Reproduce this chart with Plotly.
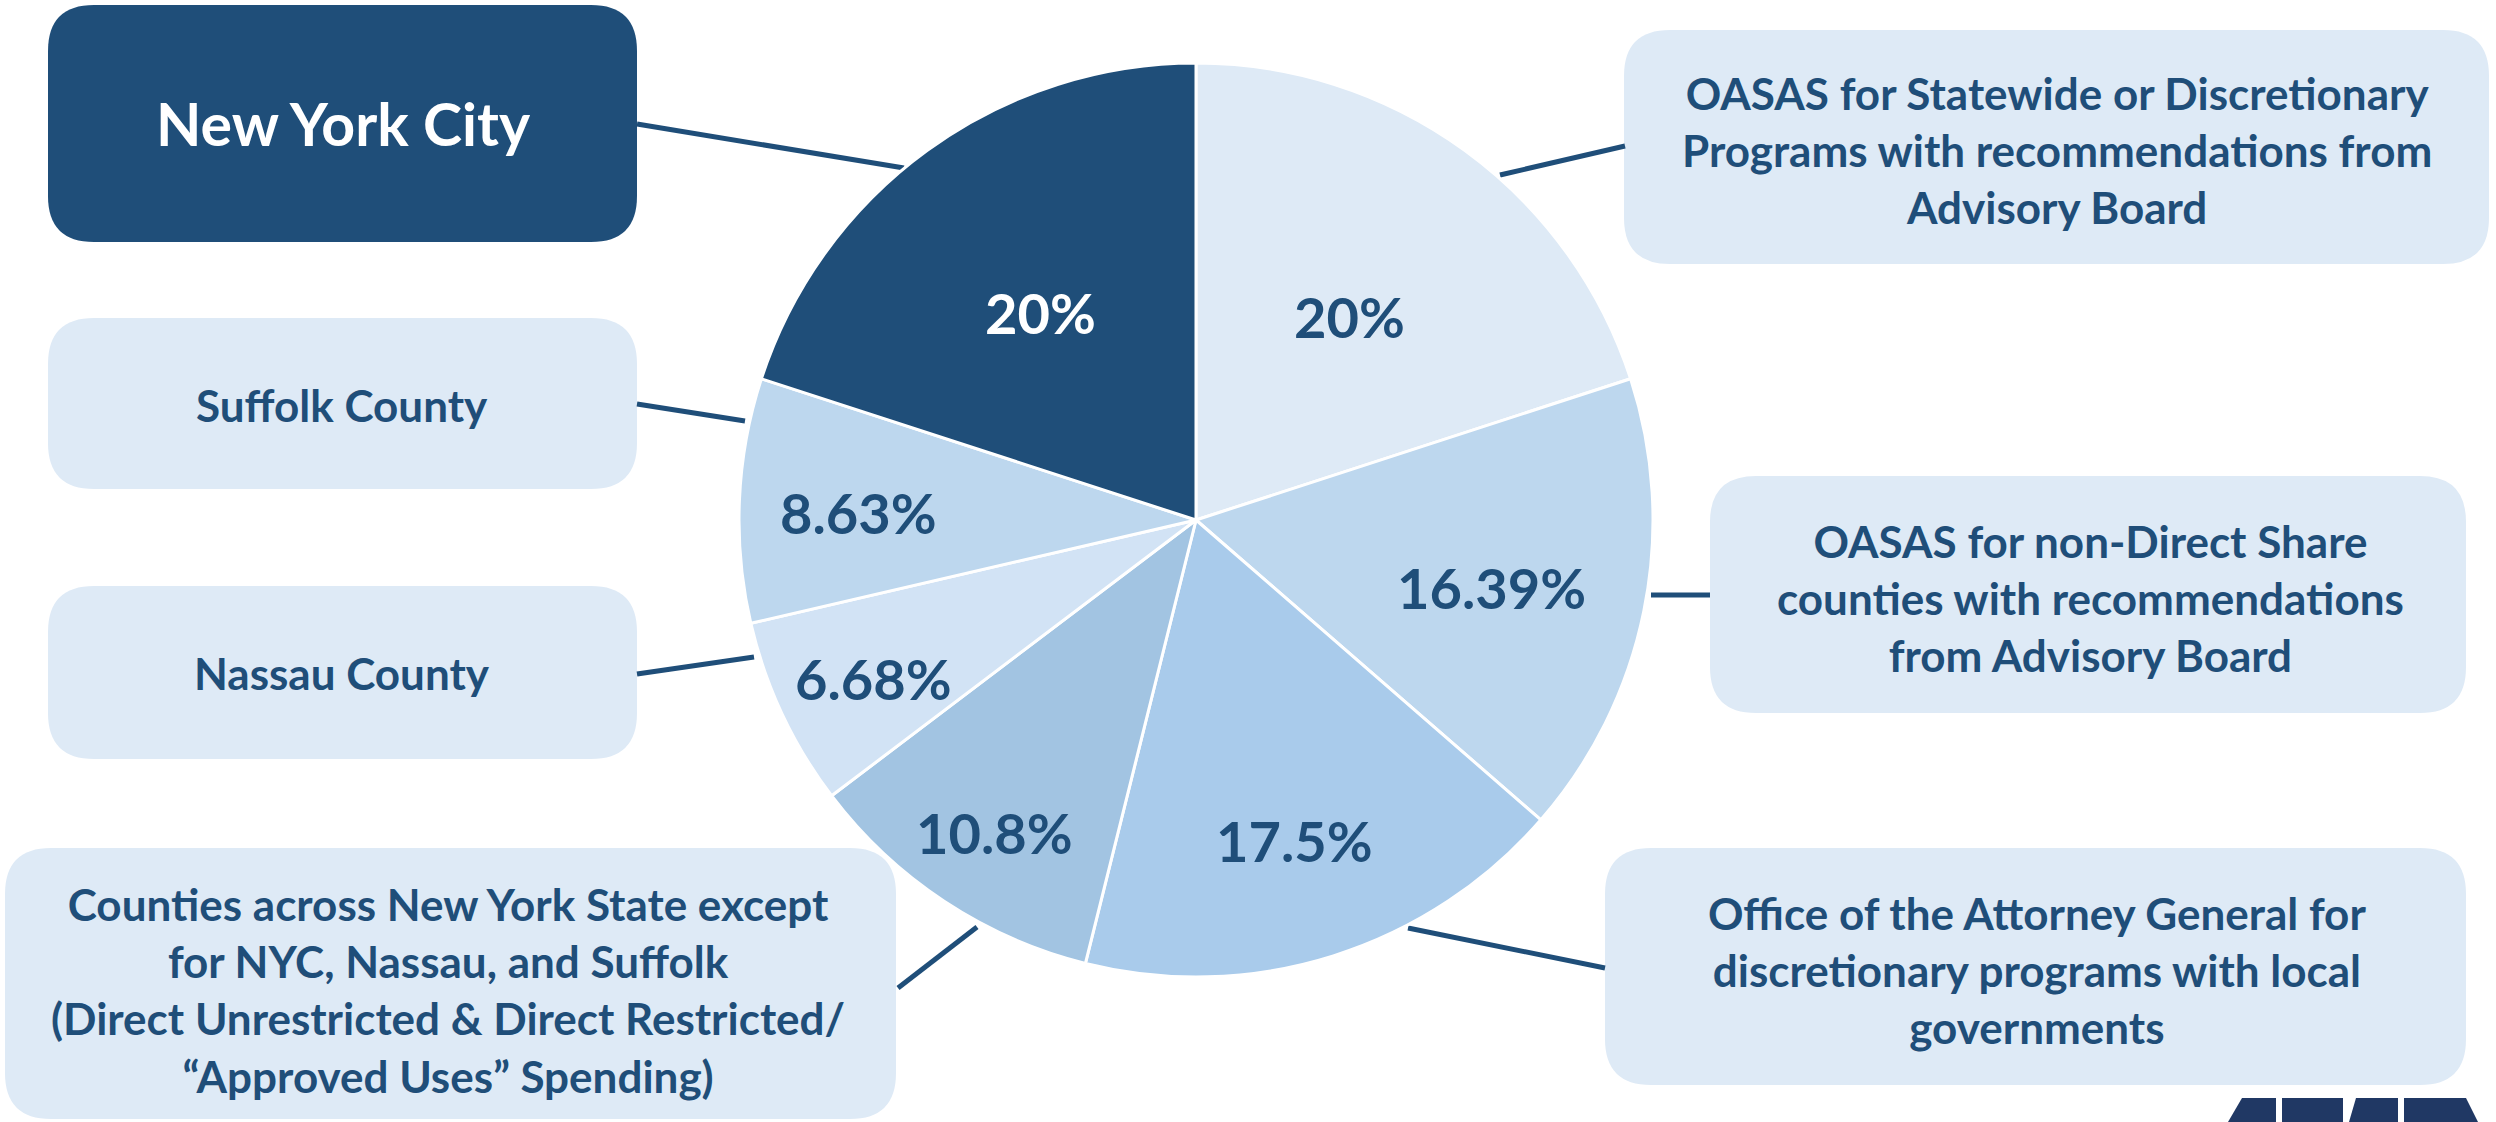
import math
import plotly.graph_objects as go

# ---------------- data ----------------
categories = [
    "OASAS for Statewide or Discretionary Programs with recommendations from Advisory Board",
    "OASAS for non-Direct Share counties with recommendations from Advisory Board",
    "Office of the Attorney General for discretionary programs with local governments",
    "Counties across New York State except for NYC, Nassau, and Suffolk",
    "Nassau County",
    "Suffolk County",
    "New York City",
]
values = [20, 16.39, 17.5, 10.8, 6.68, 8.63, 20]
pct_labels = ["20%", "16.39%", "17.5%", "10.8%", "6.68%", "8.63%", "20%"]

# ---------------- styles ----------------
W, H = 2496, 1122
NAVY = "#1F4E79"
BOX = "#DEEAF6"
slice_colors = ["#DEEAF6", "#BDD7EE", "#A9CBEB", "#A2C4E2", "#D2E3F5", "#BDD7EE", "#1F4E79"]
label_colors = [NAVY, NAVY, NAVY, NAVY, NAVY, NAVY, "white"]
label_rfrac = [0.57, 0.66, 0.72, 0.80, 0.78, 0.74, 0.58]
LABEL_DY = 7  # small downward nudge of the percentage labels (px)
FONT = "Lato, 'Open Sans', sans-serif"

# pie geometry in pixels
CX, CY, R = 1196, 520, 457


def X(p):
    return p / W


def Y(p):
    return 1 - p / H


fig = go.Figure()
fig.add_trace(go.Pie(
    labels=categories,
    values=values,
    sort=False,
    direction="clockwise",
    rotation=0,
    marker=dict(colors=slice_colors, line=dict(color="white", width=3)),
    textinfo="none",
    hoverinfo="skip",
    showlegend=False,
    domain=dict(x=[X(CX - R), X(CX + R)], y=[Y(CY + R), Y(CY - R)]),
))

shapes = []
annotations = []


def rrect(x0, y0, x1, y1, fill, r=46):
    p = (f"M {X(x0 + r)},{Y(y0)} L {X(x1 - r)},{Y(y0)} Q {X(x1)},{Y(y0)} {X(x1)},{Y(y0 + r)} "
         f"L {X(x1)},{Y(y1 - r)} Q {X(x1)},{Y(y1)} {X(x1 - r)},{Y(y1)} "
         f"L {X(x0 + r)},{Y(y1)} Q {X(x0)},{Y(y1)} {X(x0)},{Y(y1 - r)} "
         f"L {X(x0)},{Y(y0 + r)} Q {X(x0)},{Y(y0)} {X(x0 + r)},{Y(y0)} Z")
    shapes.append(dict(type="path", path=p, xref="paper", yref="paper",
                       fillcolor=fill, line=dict(width=0), layer="below"))


def line(x0, y0, x1, y1):
    shapes.append(dict(type="line", xref="paper", yref="paper",
                       x0=X(x0), y0=Y(y0), x1=X(x1), y1=Y(y1),
                       line=dict(color=NAVY, width=5), layer="below"))


def text(x, y, s, size, color=NAVY):
    annotations.append(dict(x=X(x), y=Y(y), xref="paper", yref="paper",
                            text=s, showarrow=False, xanchor="center", yanchor="middle",
                            align="center",
                            font=dict(family=FONT, size=size, color=color, weight="bold")))


# callout boxes
rrect(48, 5, 637, 242, NAVY)
text(343, 124, "New York City", 59, "white")

rrect(48, 318, 637, 489, BOX)
text(342, 405, "Suffolk County", 44)

rrect(48, 586, 637, 759, BOX)
text(342, 673, "Nassau County", 44)

rrect(5, 848, 896, 1119, BOX)
text(448, 990, "Counties across New York State except<br>for NYC, Nassau, and Suffolk<br>"
               "(Direct Unrestricted &amp; Direct Restricted/<br>\u201cApproved Uses\u201d Spending)", 44)

rrect(1624, 30, 2489, 264, BOX)
text(2057, 150, "OASAS for Statewide or Discretionary<br>Programs with recommendations from<br>Advisory Board", 44)

rrect(1710, 476, 2466, 713, BOX)
text(2090, 598, "OASAS for non-Direct Share<br>counties with recommendations<br>from Advisory Board", 44)

rrect(1605, 848, 2466, 1085, BOX)
text(2037, 970, "Office of the Attorney General for<br>discretionary programs with local<br>governments", 44)

# leader lines
line(637, 124, 904, 168)
line(1500, 175, 1625, 146)
line(637, 404, 745, 421)
line(637, 674, 754, 657)
line(1651, 595, 1710, 595)
line(1408, 928, 1605, 968)
line(898, 988, 977, 927)

# percentage labels placed at slice mid-angles computed from the data
total = sum(values)
cum = 0.0
for v, lab, col, f in zip(values, pct_labels, label_colors, label_rfrac):
    th = 2 * math.pi * (cum + v / 2) / total
    cum += v
    lx = CX + f * R * math.sin(th)
    ly = CY - f * R * math.cos(th) + LABEL_DY
    text(lx, ly, lab, 56, col)

# partial logo at bottom-right corner
LOGO = "#203864"
logo_polys = [
    [(2228, 1122), (2242, 1098), (2276, 1098), (2276, 1122)],
    [(2282, 1122), (2282, 1098), (2343, 1098), (2343, 1122)],
    [(2349, 1122), (2356, 1098), (2398, 1098), (2398, 1122)],
    [(2404, 1122), (2404, 1098), (2466, 1098), (2478, 1122)],
]
for poly in logo_polys:
    p = "M " + " L ".join(f"{X(a)},{Y(b)}" for a, b in poly) + " Z"
    shapes.append(dict(type="path", path=p, xref="paper", yref="paper",
                       fillcolor=LOGO, line=dict(width=0), layer="above"))

fig.update_layout(
    width=W, height=H, autosize=False,
    margin=dict(l=0, r=0, t=0, b=0),
    paper_bgcolor="white", plot_bgcolor="white",
    showlegend=False,
    shapes=shapes,
    annotations=annotations,
)

fig.write_html("out.html",
               config={"displayModeBar": False},
               post_script="document.body.style.margin='0';document.body.style.padding='0';")
